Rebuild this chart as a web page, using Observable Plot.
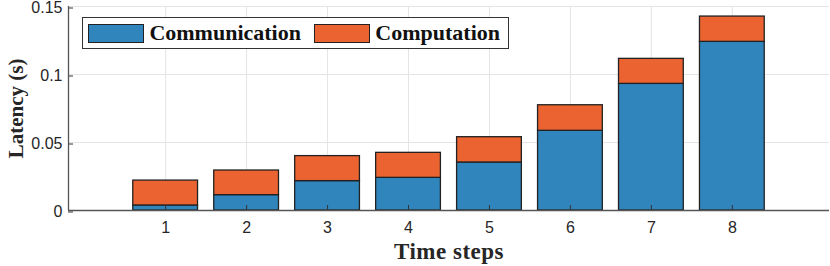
<!DOCTYPE html>
<html>
<head>
<meta charset="utf-8">
<script src="https://cdn.jsdelivr.net/npm/d3@7"></script>
<script src="https://cdn.jsdelivr.net/npm/@observablehq/plot@0.6"></script>
<style>
  html, body { margin: 0; padding: 0; background: #fff; }
  #wrap { position: relative; width: 830px; height: 266px; }
  g[aria-label="y-axis label"] text, g[aria-label="x-axis label"] text {
    font-family: "Liberation Serif", "Times New Roman", serif; font-weight: bold; font-size: 21px; fill: #262626;
  }
  g[aria-label="x-axis label"] text { font-size: 23px; letter-spacing: 0.5px; }
  #legend {
    position: absolute; left: 82px; top: 17px; width: 427px; height: 32px;
    border: 1px solid #333; background: #fff; box-sizing: border-box;
    display: flex; align-items: center;
    font-family: "Liberation Serif", "Times New Roman", serif; font-weight: bold; font-size: 22px; color: #111;
  }
  .sw { width: 57px; height: 19px; border: 1px solid #222; box-sizing: border-box; margin-left: 5px; margin-right: 5px; }
</style>
</head>
<body>
<div id="wrap">
  <div id="chart"></div>
  <div id="legend"></div>
</div>
<script>
const steps = [1, 2, 3, 4, 5, 6, 7, 8];
const communication = [0.0037, 0.0113, 0.0216, 0.0240, 0.0353, 0.0586, 0.0931, 0.1240];
const computation   = [0.0183, 0.0181, 0.0184, 0.0184, 0.0186, 0.0188, 0.0184, 0.0186];
const seriesNames = ["Communication", "Computation"];
const seriesColors = ["#3085BD", "#EA6331"];
const yTicks = [0, 0.05, 0.1, 0.15];
const yTickLabels = ["0", "0.05", "0.1", "0.15"];

const halfWidth = 0.4;
const rows = [];
steps.forEach((s, i) => {
  rows.push({step: s, series: seriesNames[0], y1: 0, y2: communication[i]});
  rows.push({step: s, series: seriesNames[1], y1: communication[i], y2: communication[i] + computation[i]});
});

const chart = Plot.plot({
  width: 830,
  height: 266,
  marginLeft: 68,
  marginRight: 1,
  marginTop: 6,
  marginBottom: 56,
  style: {fontFamily: "'Liberation Sans', Arial, sans-serif", fontSize: "16px", color: "#262626", overflow: "visible"},
  x: {domain: [-0.2, 9.2]},
  y: {domain: [0, 0.15]},
  color: {domain: seriesNames, range: seriesColors},
  marks: [
    Plot.gridX(steps, {stroke: "#e4e4e4", strokeOpacity: 1}),
    Plot.gridY(yTicks, {stroke: "#e4e4e4", strokeOpacity: 1}),
    Plot.rectY(rows, {
      x1: d => d.step - halfWidth,
      x2: d => d.step + halfWidth,
      y1: "y1", y2: "y2",
      fill: "series",
      stroke: "#222", strokeWidth: 1.3
    }),
    Plot.axisX(steps, {tickSize: -5, tickPadding: 16, stroke: "#333", label: "Time steps", labelAnchor: "center", labelOffset: 48, labelArrow: "none"}),
    Plot.axisY(yTicks, {tickSize: -5, tickPadding: 11, dy: 1.5, tickFormat: (d, i) => yTickLabels[i], stroke: "#333", label: "Latency (s)", labelAnchor: "center", labelOffset: 60, labelArrow: "none"}),
    Plot.ruleX([-0.2], {stroke: "#555", strokeWidth: 1.3}),
    Plot.ruleY([0], {stroke: "#555", strokeWidth: 1.3})
  ]
});
document.getElementById("chart").appendChild(chart);

const legend = document.getElementById("legend");
seriesNames.forEach((name, i) => {
  const sw = document.createElement("div");
  sw.className = "sw";
  sw.style.background = seriesColors[i];
  legend.appendChild(sw);
  const t = document.createElement("span");
  t.textContent = name;
  t.style.marginRight = "8px";
  legend.appendChild(t);
});
</script>
</body>
</html>
